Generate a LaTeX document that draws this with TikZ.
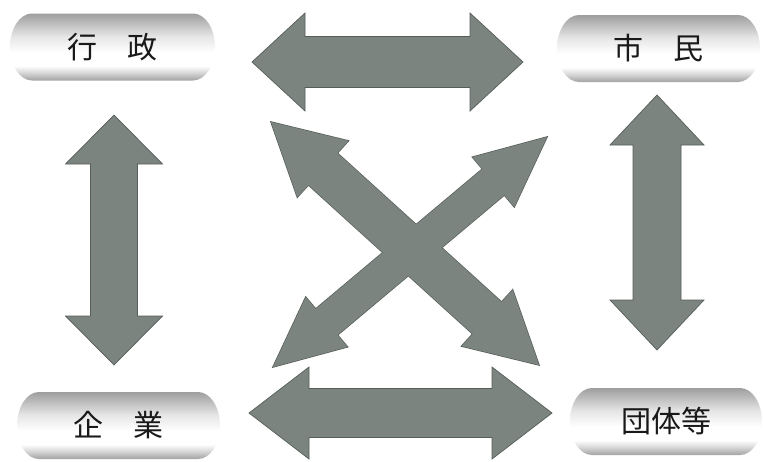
\documentclass[tikz,border=0pt]{standalone}
\usepackage{fontspec}
\newfontfamily\cjk{Noto Sans CJK JP}
\usetikzlibrary{calc}
\definecolor{arrowfill}{RGB}{124,132,128}
\definecolor{arrowedge}{RGB}{86,94,90}
\definecolor{ptop}{RGB}{158,158,158}
\definecolor{pbot}{RGB}{162,162,162}
\pgfdeclareverticalshading{pillshade}{100bp}{color(0bp)=(pbot); color(25bp)=(pbot); color(31bp)=(white!85!black); color(36bp)=(white); color(46bp)=(white); color(58bp)=(white!90!black); color(75bp)=(ptop); color(100bp)=(ptop)}
% #1 style, #2 end A, #3 end B, #4 shaft half-width, #5 head half-width, #6 head length
\newcommand\dblarrow[6]{%
  \path ($(#2)!#6!(#3)$) coordinate (hA) ($(#3)!#6!(#2)$) coordinate (hB);
  \path[#1] (#2) -- ($(hA)!#5!90:(#3)$) -- ($(hA)!#4!90:(#3)$)
    -- ($(hB)!#4!-90:(#2)$) -- ($(hB)!#5!-90:(#2)$) -- (#3)
    -- ($(hB)!#5!90:(#2)$) -- ($(hB)!#4!90:(#2)$)
    -- ($(hA)!#4!-90:(#3)$) -- ($(hA)!#5!-90:(#3)$) -- cycle;}
% #1 name, #2 cx, #3 cy, #4 width, #5 text
\newcommand\pill[5]{%
  \shade[shading=pillshade] (#2,#3) ++(-#4/2+22,-33.5) -- ++(#4-44,0)
    arc[start angle=90,end angle=-90,x radius=22pt,y radius=33.5pt]
    -- ++(-#4+44,0)
    arc[start angle=270,end angle=90,x radius=22pt,y radius=33.5pt] -- cycle;
  \node[pilltext] (#1) at (#2,#3) {#5};}
\tikzset{
  pilltext/.style={inner sep=0pt, font=\cjk\fontsize{30}{36}\selectfont, text=black!90},
  arrowbody/.style={fill=arrowfill, draw=arrowedge, line width=0.7pt, line join=miter},
  arrowoutline/.style={draw=arrowedge, line width=1.4pt, line join=miter},
  arrowonly/.style={fill=arrowfill}
}
\begin{document}
\begin{tikzpicture}[x=1pt,y=-1pt]
\fill[white] (0,0) rectangle (763,461);
\useasboundingbox (0,0) rectangle (763,461);

% pills
\pill{gyosei}{112.5}{47}{205}{行　政}
\pill{shimin}{658.5}{48.5}{203}{市　民}
\pill{kigyo}{118.5}{425.5}{203}{企　業}
\pill{dantai}{666}{421.5}{192}{団体等}

% arrow end points
\coordinate (topL) at (252,62);   \coordinate (topR) at (523,62);
\coordinate (botL) at (249,413);  \coordinate (botR) at (552,413);
\coordinate (lefT) at (114,115);  \coordinate (lefB) at (114,365);
\coordinate (rigT) at (657,95);   \coordinate (rigB) at (657,350);
\coordinate (nw) at (271,122);    \coordinate (se) at (539,365);
\coordinate (ne) at (547,137);    \coordinate (sw) at (273,367);

% straight arrows
\dblarrow{arrowbody}{topL}{topR}{25.5pt}{49pt}{53pt}
\dblarrow{arrowbody}{botL}{botR}{24.5pt}{46pt}{60pt}
\dblarrow{arrowbody}{lefT}{lefB}{23.5pt}{48.5pt}{49pt}
\dblarrow{arrowbody}{rigT}{rigB}{24pt}{47pt}{50pt}

% crossing arrows: outlines first, then fills so they merge
\dblarrow{arrowoutline}{nw}{se}{21.5pt}{38pt}{70pt}
\dblarrow{arrowoutline}{ne}{sw}{17pt}{32.5pt}{70pt}
\dblarrow{arrowonly}{nw}{se}{21.5pt}{38pt}{70pt}
\dblarrow{arrowonly}{ne}{sw}{17pt}{32.5pt}{70pt}
\end{tikzpicture}
\end{document}
